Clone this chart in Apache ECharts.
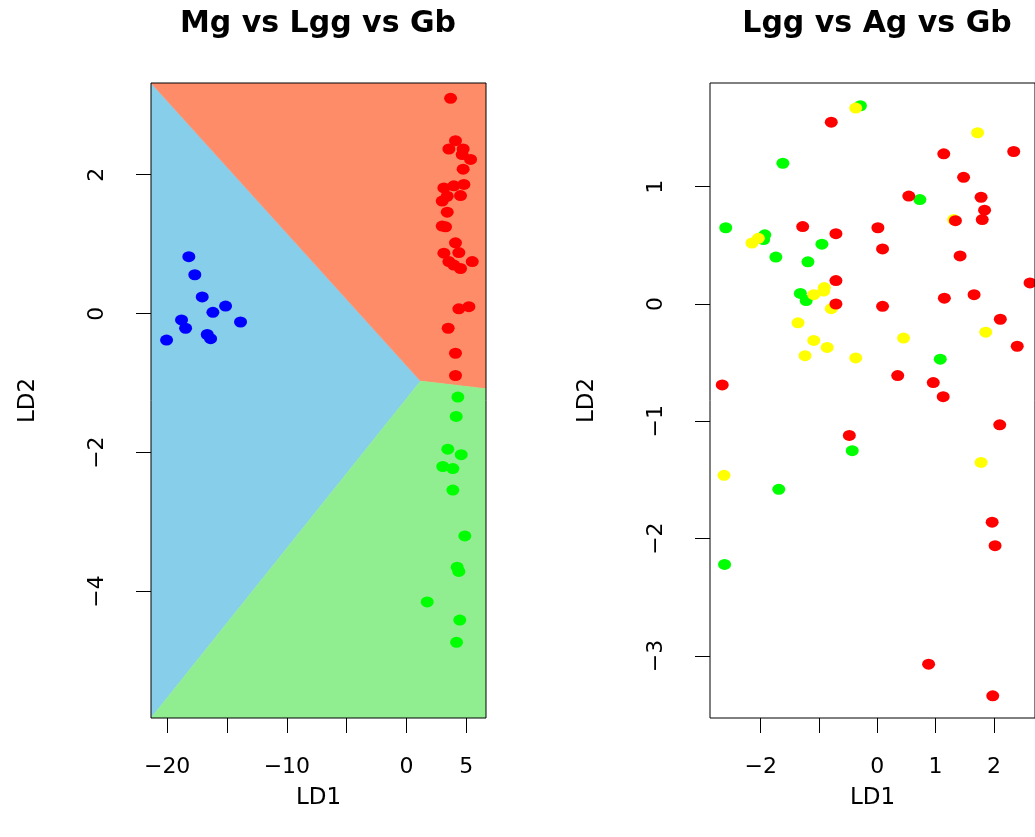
<!DOCTYPE html>
<html><head><meta charset="utf-8">
<script src="https://cdn.jsdelivr.net/npm/echarts@6/dist/echarts.min.js"></script>
<style>html,body{margin:0;padding:0;background:#fff}#c{width:1035px;height:837px}</style>
</head><body><div id="c"></div>
<script>
// ---- Left panel: Mg vs Lgg vs Gb ----
const leftRed = [[3.68,3.10],[4.09,2.49],[3.54,2.37],[4.73,2.37],[4.65,2.29],[5.35,2.22],[4.73,2.08],[3.12,1.81],[3.95,1.84],[4.79,1.86],[4.51,1.70],[3.40,1.69],[2.98,1.62],[3.40,1.46],[2.98,1.26],[3.26,1.25],[4.09,1.02],[4.37,0.88],[3.12,0.87],[3.54,0.75],[3.95,0.70],[4.51,0.65],[5.49,0.75],[4.37,0.07],[5.21,0.10],[3.48,-0.21],[4.09,-0.57],[4.09,-0.89]];
const leftBlue = [[-18.19,0.82],[-17.69,0.56],[-17.07,0.24],[-15.12,0.11],[-16.18,0.02],[-13.87,-0.12],[-18.80,-0.09],[-18.46,-0.21],[-16.65,-0.30],[-16.37,-0.36],[-20.05,-0.38]];
const leftGreen = [[4.29,-1.20],[4.15,-1.48],[3.45,-1.95],[4.57,-2.03],[3.03,-2.20],[3.87,-2.23],[3.87,-2.54],[4.87,-3.20],[4.23,-3.65],[4.37,-3.71],[1.73,-4.15],[4.45,-4.41],[4.18,-4.73]];
// decision regions (vertices in LD1/LD2 units)
const regionBlue = [[-21.35,3.32],[1.17,-0.97],[-21.35,-5.82]];
const regionRed = [[-21.35,3.32],[6.64,3.32],[6.64,-1.08],[1.17,-0.97]];
const regionGreen = [[1.17,-0.97],[6.64,-1.08],[6.64,-5.82],[-21.35,-5.82]];
const leftXTicks = [-20,-15,-10,-5,0,5];
const leftXLabels = [-20,-10,0,5];
const leftYTicks = [-4,-2,0,2];

// ---- Right panel: Lgg vs Ag vs Gb ----
const rightRed = [[-0.79,1.55],[1.14,1.28],[2.34,1.30],[1.48,1.08],[0.54,0.92],[1.78,0.91],[1.84,0.80],[1.34,0.71],[1.80,0.72],[-1.28,0.66],[-0.71,0.60],[0.01,0.65],[0.09,0.47],[1.42,0.41],[2.62,0.18],[-0.71,0.20],[-0.71,0.00],[0.09,-0.02],[1.15,0.05],[1.66,0.08],[2.11,-0.13],[2.40,-0.36],[0.35,-0.61],[0.96,-0.67],[1.13,-0.79],[-2.66,-0.69],[2.10,-1.03],[-0.48,-1.12],[1.97,-1.86],[2.02,-2.06],[0.88,-3.07],[1.98,-3.34]];
const rightGreen = [[-0.29,1.69],[-1.62,1.20],[0.73,0.89],[-2.60,0.65],[-1.93,0.59],[-1.95,0.55],[-0.95,0.51],[-1.74,0.40],[-1.19,0.36],[-1.32,0.09],[-1.22,0.03],[1.08,-0.47],[-0.43,-1.25],[-1.69,-1.58],[-2.62,-2.22]];
const rightYellow = [[-0.37,1.67],[1.72,1.46],[1.31,0.72],[-2.04,0.56],[-2.15,0.52],[-0.91,0.14],[-0.92,0.11],[-1.09,0.08],[-0.79,-0.04],[-1.36,-0.16],[1.86,-0.24],[-1.09,-0.31],[-0.86,-0.37],[-1.24,-0.44],[-0.37,-0.46],[0.45,-0.29],[1.78,-1.35],[-2.63,-1.46]];
const rightXTicks = [-2,-1,0,1,2];
const rightXLabels = [-2,0,1,2];
const rightYTicks = [-3,-2,-1,0,1];

const FONT = 'DejaVu Sans';
const minus = v => String(v).replace('-', '\u2212');
const regions = [regionBlue, regionRed, regionGreen];
const regionColors = ['#87CEEB', '#FF8C69', '#90EE90'];

function xAxis(grid, min, max, ticks, labels) {
  return {
    type: 'value', gridIndex: grid, min, max, position: 'bottom',
    name: 'LD1', nameLocation: 'middle', nameGap: 69,
    nameTextStyle: { fontFamily: FONT, fontSize: 23, color: '#000' },
    splitLine: { show: false }, axisLine: { show: false, onZero: false },
    axisTick: { show: true, length: 15, customValues: ticks, lineStyle: { color: '#000', width: 1 } },
    axisLabel: { customValues: labels, margin: 38, fontFamily: FONT, fontSize: 22, color: '#000', formatter: minus, showMinLabel: true, showMaxLabel: true }
  };
}
function yAxis(grid, min, max, ticks) {
  return {
    type: 'value', gridIndex: grid, min, max, position: 'left',
    name: 'LD2', nameLocation: 'middle', nameGap: 111, nameRotate: 90,
    nameTextStyle: { fontFamily: FONT, fontSize: 23, color: '#000' },
    splitLine: { show: false }, axisLine: { show: false, onZero: false },
    axisTick: { show: true, length: 15, customValues: ticks, lineStyle: { color: '#000', width: 1 } },
    axisLabel: { customValues: ticks, rotate: 90, margin: 43, fontFamily: FONT, fontSize: 22, color: '#000', formatter: minus, showMinLabel: true, showMaxLabel: true }
  };
}
function pts(name, data, color, xi) {
  return { type: 'scatter', name, data, xAxisIndex: xi, yAxisIndex: xi, symbol: 'circle', symbolSize: [13, 11],
    itemStyle: { color, opacity: 1 }, emphasis: { disabled: true }, silent: true, z: 3 };
}

const chart = echarts.init(document.getElementById('c'), null, { renderer: 'canvas' });
chart.setOption({
  animation: false,
  backgroundColor: '#fff',
  title: [
    { text: 'Mg vs Lgg vs Gb', left: 318, top: 9, textAlign: 'center', padding: 0,
      textStyle: { fontFamily: FONT, fontWeight: 'bold', fontSize: 30, color: '#000' } },
    { text: 'Lgg vs Ag vs Gb', left: 877, top: 9, textAlign: 'center', padding: 0,
      textStyle: { fontFamily: FONT, fontWeight: 'bold', fontSize: 30, color: '#000' } }
  ],
  grid: [
    { left: 151, top: 83, width: 335, height: 635, show: true, backgroundColor: 'transparent', borderColor: '#000', borderWidth: 1, z: 10 },
    { left: 710, top: 83, right: 0, height: 635, show: true, backgroundColor: 'transparent', borderColor: '#000', borderWidth: 1, z: 10 }
  ],
  xAxis: [xAxis(0, -21.35, 6.64, leftXTicks, leftXLabels), xAxis(1, -2.87, 2.705, rightXTicks, rightXLabels)],
  yAxis: [yAxis(0, -5.82, 3.32, leftYTicks), yAxis(1, -3.529, 1.884, rightYTicks)],
  series: [
    { type: 'custom', xAxisIndex: 0, yAxisIndex: 0, clip: true, silent: true, z: 1,
      data: regions.map(r => r[0]),
      renderItem: (params, api) => ({
        type: 'polygon',
        shape: { points: regions[params.dataIndex].map(p => api.coord(p)) },
        style: { fill: regionColors[params.dataIndex], stroke: regionColors[params.dataIndex], lineWidth: 0.5 }
      })
    },
    pts('Lgg', leftRed, '#FF0000', 0),
    pts('Mg', leftBlue, '#0000FF', 0),
    pts('Gb', leftGreen, '#00FF00', 0),
    pts('Gb', rightGreen, '#00FF00', 1),
    pts('Ag', rightYellow, '#FFFF00', 1),
    pts('Lgg', rightRed, '#FF0000', 1)
  ]
});
</script>
</body></html>
